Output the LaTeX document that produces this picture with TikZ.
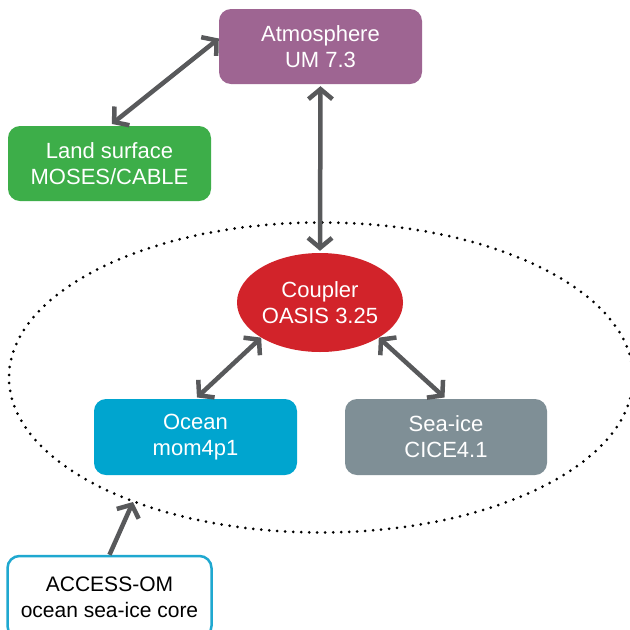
\documentclass[tikz,border=0pt]{standalone}
\usepackage{fontspec}
\setmainfont{Liberation Sans}
\usetikzlibrary{shapes.geometric,arrows.meta}
\definecolor{atmcol}{HTML}{9E6592}
\definecolor{landcol}{HTML}{3DAE49}
\definecolor{coupcol}{HTML}{D2232A}
\definecolor{oceancol}{HTML}{00A5CF}
\definecolor{icecol}{HTML}{7F8F96}
\definecolor{arrcol}{HTML}{58595B}
\definecolor{accborder}{HTML}{1FA8D0}
\tikzset{
  box/.style={rectangle, rounded corners=12pt, draw=none, text=white, align=center,
    font=\fontsize{22}{26}\selectfont, inner sep=0pt},
  coupstyle/.style={ellipse, fill=coupcol, text=white, align=center,
    font=\fontsize{22}{26}\selectfont, inner sep=0pt},
  conn/.style={draw=arrcol, line width=4.5pt, {Straight Barb[length=10pt,width=24pt]}-{Straight Barb[length=10pt,width=24pt]}},
  oneway/.style={draw=arrcol, line width=4.5pt, -{Straight Barb[length=10pt,width=24pt]}},
  dotsline/.style={draw=black, line width=3pt, line cap=round, dash pattern=on 0pt off 8pt}
}
\begin{document}
\begin{tikzpicture}[x=1pt,y=-1pt]
\useasboundingbox (0,0) rectangle (630,630);
\clip (0,0) rectangle (630,630);
\fill[white] (0,0) rectangle (630,630);
% dotted ellipse
\draw[dotsline] (321,377.5) ellipse [x radius=312pt, y radius=155pt];
% nodes
\node[box, fill=atmcol, minimum width=203pt, minimum height=75pt] (atm) at (320.5,46.5) {Atmosphere\\UM 7.3};
\node[box, fill=landcol, minimum width=203pt, minimum height=75pt] (land) at (109.5,163.5) {Land surface\\MOSES/CABLE};
\node[coupstyle, minimum width=166pt, minimum height=99pt] (coup) at (320,302.5) {Coupler\\OASIS 3.25};
\node[box, fill=oceancol, minimum width=203pt, minimum height=76pt] (ocean) at (195.5,437) {Ocean\\mom4p1};
\node[box, fill=icecol, minimum width=202pt, minimum height=76pt] (seaice) at (446,437) {Sea-ice\\CICE4.1};
\node[box, fill=white, draw=accborder, line width=2.5pt, text=black, font=\fontsize{21}{26}\selectfont, minimum width=204pt, minimum height=82pt] (access) at (109.5,597) {ACCESS-OM\\ocean sea-ice core};
\coordinate (elltip) at (133,502);
% connectors
\draw[conn, shorten >=3pt] ([yshift=8pt]atm.west) -- (land.north);
\draw[conn, shorten <=2pt, shorten >=2pt] (atm.south) -- (coup.north);
\draw[conn, shorten >=2pt] (coup.south west) -- (ocean.north);
\draw[conn, shorten >=2pt] (coup.south east) -- (seaice.north);
\draw[oneway] (access.north) -- (elltip);
\end{tikzpicture}
\end{document}
